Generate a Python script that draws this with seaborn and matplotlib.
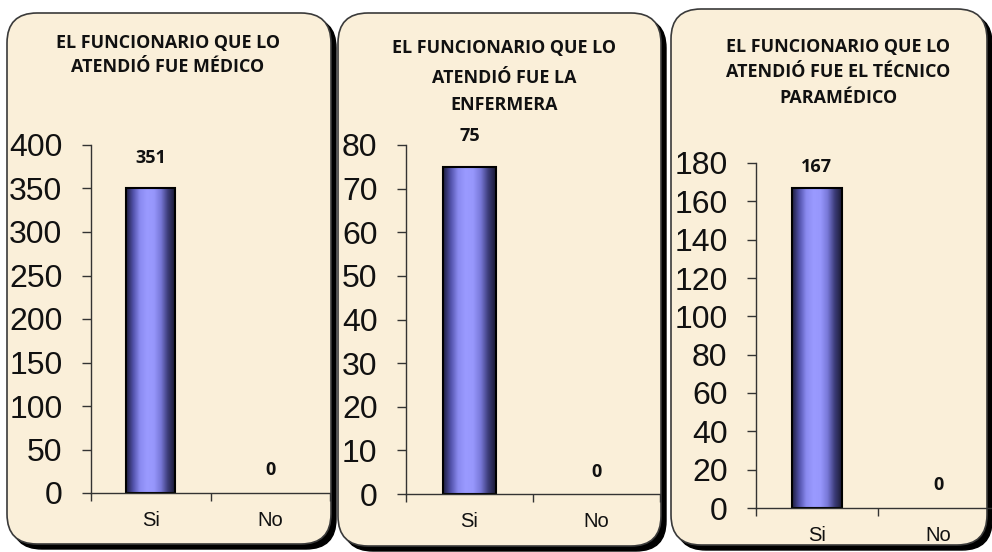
import numpy as np
import pandas as pd
import matplotlib
matplotlib.use("Agg")
import matplotlib.pyplot as plt
from matplotlib.patches import FancyBboxPatch
from matplotlib.colors import LinearSegmentedColormap
import seaborn as sns

# ---- data ----
categories = ["Si", "No"]
medico = [351, 0]
enfermera = [75, 0]
tecnico = [167, 0]
titles = [
    ["EL FUNCIONARIO QUE LO", "ATENDIÓ FUE MÉDICO"],
    ["EL FUNCIONARIO QUE LO", "ATENDIÓ FUE LA", "ENFERMERA"],
    ["EL FUNCIONARIO QUE LO", "ATENDIÓ FUE EL TÉCNICO", "PARAMÉDICO"],
]
y_max = [400, 80, 180]
y_step = [50, 10, 20]

sns.set_theme(style="white")
plt.rcParams["font.family"] = ["Liberation Sans", "DejaVu Sans"]

W, H = 992, 552
fig = plt.figure(figsize=(W / 100, H / 100), dpi=100)
fig.patch.set_facecolor("white")

# background axes in pixel coordinates for panels
bg = fig.add_axes([0, 0, 1, 1], zorder=0)
bg.set_xlim(0, W)
bg.set_ylim(H, 0)
bg.axis("off")

panel_fill = "#FAEFD9"
panels = [(7, 13, 324, 531), (338, 13, 323, 533), (671, 9, 316, 536)]
for (x, y, w, h) in panels:
    sh = FancyBboxPatch((x + 5, y + 5), w, h, boxstyle="round,pad=0,rounding_size=30",
                        facecolor="black", edgecolor="black", lw=1)
    bg.add_patch(sh)
    box = FancyBboxPatch((x, y), w, h, boxstyle="round,pad=0,rounding_size=30",
                         facecolor=panel_fill, edgecolor="#3a3a3a", lw=1.2)
    bg.add_patch(box)

title_font = ["Open Sans", "DejaVu Sans"]
title_pos = [
    (168, [48, 72]),
    (504, [53, 83, 110]),
    (838, [52, 77, 103]),
]
for (cx, ys), lines in zip(title_pos, titles):
    for yy, t in zip(ys, lines):
        bg.text(cx, yy, t, ha="center", va="baseline", fontsize=12.9,
                fontweight="bold", family=title_font, color="#111111")

# axes positions in pixels: left, right, top, bottom
ax_px = [(91, 330, 145, 493), (406, 660, 145, 494), (756, 999, 163, 508)]
label_pad = [[25, 18], [26, 17], [16, 18]]
series = [medico, enfermera, tecnico]

grad_cmap = LinearSegmentedColormap.from_list(
    "cyl", ["#1c1c3c", "#5050a8", "#8a8af0", "#9a9aff", "#9797fc", "#7878d8", "#3c3c78", "#1a1a34"])
grad = np.linspace(0, 1, 256)[None, :]

for i, (vals, (l, r, t, b)) in enumerate(zip(series, ax_px)):
    ax = fig.add_axes([l / W, (H - b) / H, (r - l) / W, (b - t) / H], zorder=2)
    ax.patch.set_alpha(0)
    df = pd.DataFrame({"cat": categories, "val": vals})
    sns.barplot(data=df, x="cat", y="val", ax=ax, width=0.41, color="#9999FF",
                edgecolor="black", linewidth=1.5)
    for p in list(ax.patches):
        px, pw, ph = p.get_x(), p.get_width(), p.get_height()
        if ph > 0:
            im = ax.imshow(grad, extent=[px, px + pw, 0, ph], aspect="auto",
                           cmap=grad_cmap, zorder=p.get_zorder() + 0.1, interpolation="bicubic")
            im.set_clip_path(p)
            p.set_facecolor("none")
            p.set_zorder(p.get_zorder() + 0.2)
        else:
            p.set_visible(False)
        ax.annotate(f"{int(round(ph))}", xy=(px + pw / 2, ph),
                    xytext=(0, label_pad[i][0 if ph > 0 else 1]),
                    textcoords="offset pixels", ha="center", va="baseline",
                    fontsize=13, fontweight="bold", family=title_font,
                    color="#111111")
    ax.set_xlim(-0.5, 1.5)
    ax.set_ylim(0, y_max[i])
    ax.set_yticks(np.arange(0, y_max[i] + 1, y_step[i]))
    ax.set_xlabel("")
    ax.set_ylabel("")
    for s in ["top", "right"]:
        ax.spines[s].set_visible(False)
    for s in ["left", "bottom"]:
        ax.spines[s].set_color("#333333")
        ax.spines[s].set_linewidth(1.0)
    ax.tick_params(axis="y", direction="out", length=6.5, width=1, color="#333333",
                   labelsize=23, pad=14, left=True)
    ax.tick_params(axis="x", which="major", length=0, labelsize=14.5, pad=13)
    ax.set_xticks([-0.5, 0.5, 1.5], minor=True)
    ax.tick_params(axis="x", which="minor", direction="out", length=6, width=1,
                   color="#333333", bottom=True)
    for lab in ax.get_yticklabels() + ax.get_xticklabels():
        lab.set_color("#111111")

fig.savefig("out.png", dpi=100, facecolor="white")
